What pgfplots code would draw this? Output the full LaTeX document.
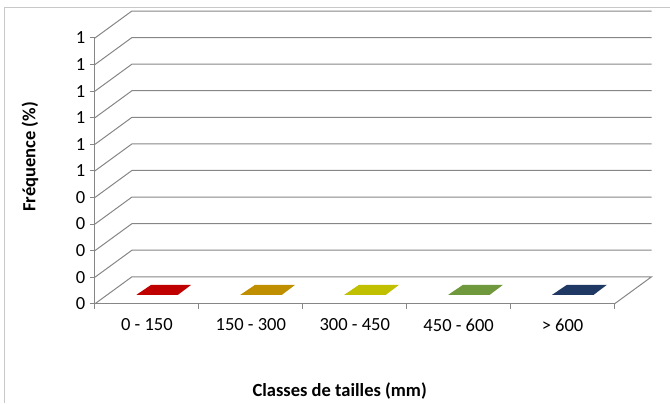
\documentclass[border=0pt]{standalone}
\usepackage{fontspec}
\setmainfont{Carlito}
\usepackage{pgfplots}
\pgfplotsset{compat=1.18}

\definecolor{axgray}{RGB}{134,134,134}
\definecolor{framegray}{RGB}{200,200,200}
\definecolor{c1}{RGB}{192,0,0}
\definecolor{c2}{RGB}{191,143,0}
\definecolor{c3}{RGB}{192,192,0}
\definecolor{c4}{RGB}{112,152,60}
\definecolor{c5}{RGB}{31,56,100}

% 1 px = 0.75pt ; depth of the 3D box in axis units
\def\dx{0.3558}
\def\dy{0.1015}

\begin{document}
\begin{tikzpicture}
\begin{axis}[
  scale only axis,
  width=390pt, height=199.5pt,
  xmin=0, xmax=5, ymin=0, ymax=1,
  clip=false,
  axis x line=bottom, axis y line=left,
  axis line style={-, draw=axgray, line width=0.75pt},
  tick align=outside,
  tick style={axgray, line width=0.75pt},
  major tick length=3.75pt,
  minor tick length=3.75pt,
  xtick={0.5,1.5,2.5,3.5,4.5},
  xticklabels={0 - 150, 150 - 300, 300 - 450, 450 - 600, > 600},
  minor xtick={0,1,2,3,4,5},
  every major x tick/.style={draw=none},
  ytick={0,0.1,0.2,0.3,0.4,0.5,0.6,0.7,0.8,0.9,1},
  yticklabels={0,0,0,0,0,1,1,1,1,1,1},
  tick label style={font=\fontsize{13.9pt}{16pt}\selectfont},
  xticklabel style={yshift=-4pt},
  xlabel={Classes de tailles (mm)},
  ylabel={Fréquence (\%)},
  label style={font=\fontsize{13.9pt}{16pt}\selectfont\bfseries},
  xlabel style={at={(axis description cs:0.471,-0.327)}, anchor=center},
  ylabel style={at={(axis description cs:-0.125,0.553)}, anchor=center, rotate=0},
]
% page size and chart frame
\path (axis cs:-0.9135,-0.3722) rectangle (axis cs:5.5288,1.1429);
\addplot[framegray, line width=0.75pt] coordinates {(-0.8654,-0.3722) (-0.8654,1.1165) (5.5288,1.1165)};

% gridlines on side and back walls
\pgfplotsinvokeforeach{0.1,0.2,0.3,0.4,0.5,0.6,0.7,0.8,0.9,1.0}{
  \addplot[axgray, line width=0.75pt] coordinates {(0,#1) (\dx,#1+\dy) (5+\dx,#1+\dy)};
}
% floor
\addplot[axgray, line width=0.75pt] coordinates {(0,0) (\dx,\dy) (5+\dx,\dy) (5,0)};

% bars: all frequencies are 0, so each column is a flat top on the floor
\addplot[fill=c1, draw=none] coordinates {(0.40,0.034) (0.80,0.034) (0.925,0.071) (0.54,0.071)} -- cycle;
\addplot[fill=c2, draw=none] coordinates {(1.40,0.034) (1.80,0.034) (1.925,0.071) (1.54,0.071)} -- cycle;
\addplot[fill=c3, draw=none] coordinates {(2.40,0.034) (2.80,0.034) (2.925,0.071) (2.54,0.071)} -- cycle;
\addplot[fill=c4, draw=none] coordinates {(3.40,0.034) (3.80,0.034) (3.925,0.071) (3.54,0.071)} -- cycle;
\addplot[fill=c5, draw=none] coordinates {(4.40,0.034) (4.80,0.034) (4.925,0.071) (4.54,0.071)} -- cycle;
\end{axis}
\end{tikzpicture}
\end{document}
